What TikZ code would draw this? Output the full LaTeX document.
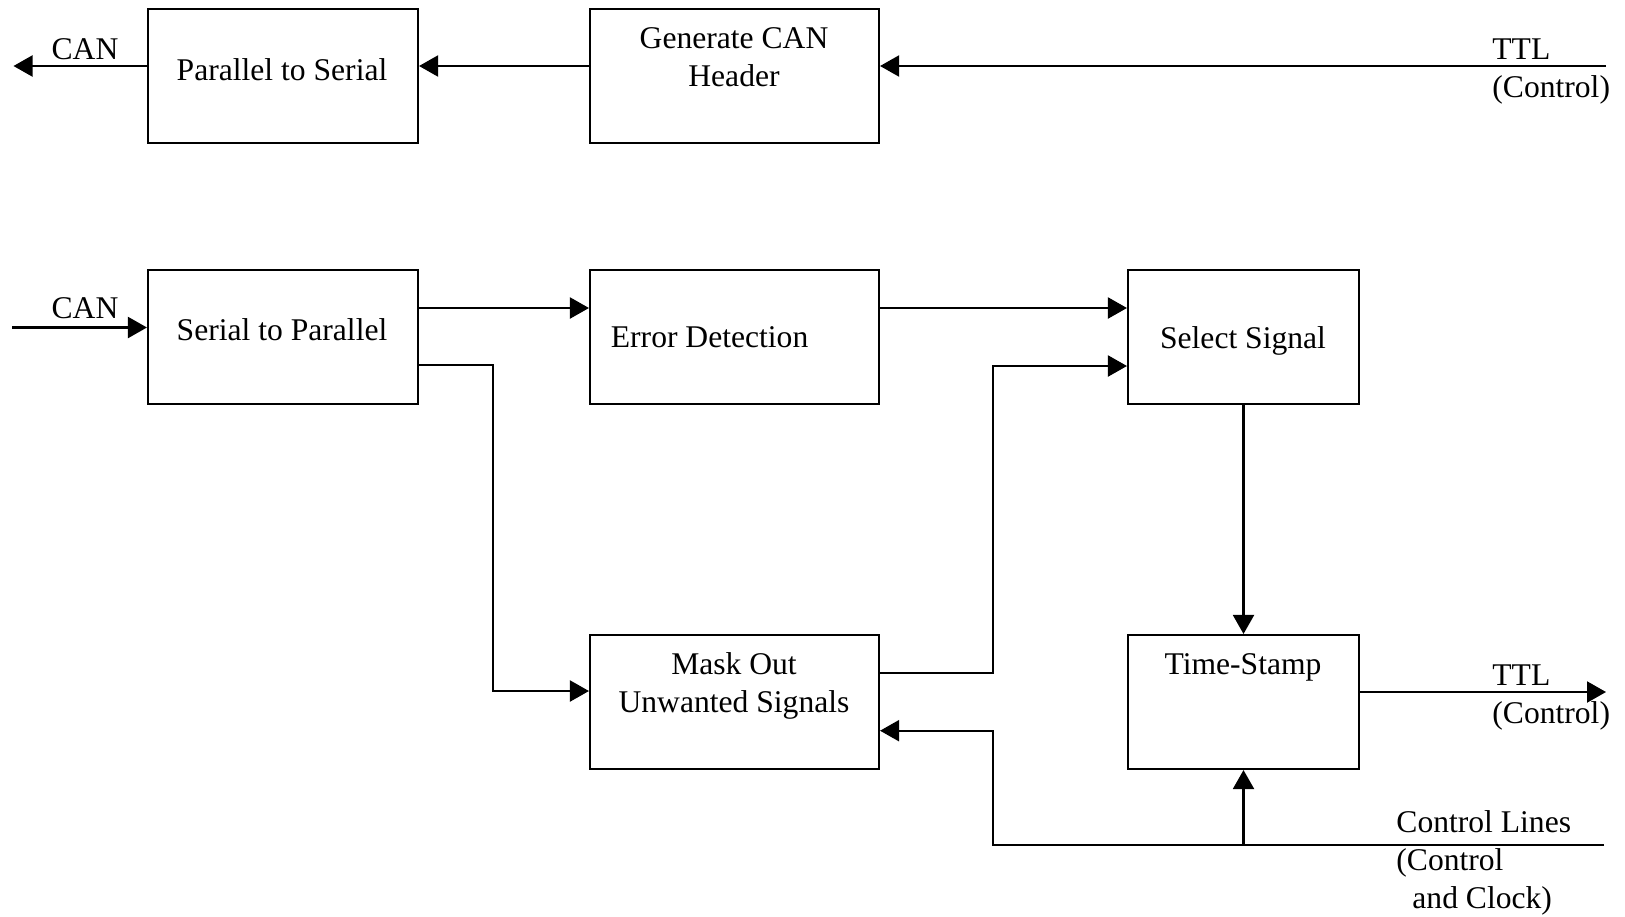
\documentclass[tikz,border=0pt]{standalone}
\usepackage{fontspec}
\setmainfont{Liberation Serif}
\usetikzlibrary{arrows.meta}
\tikzset{
 blk/.style={draw,line width=1.05pt,inner sep=0pt},
 lbl/.style={inner sep=0pt,font=\fontsize{15.8}{19}\selectfont},
 sig/.style={line width=1.05pt,-{Triangle[length=9.5pt,width=10.5pt]}},
}
\begin{document}
\begin{tikzpicture}[x=.5pt,y=-.5pt]
 \useasboundingbox (0,0) rectangle (1625,916);
 % blocks
 \node[blk,minimum width=135pt,minimum height=67pt] (p2s) at (283,76) {};
 \node[blk,minimum width=144.5pt,minimum height=67pt] (gen) at (734.5,76) {};
 \node[blk,minimum width=135pt,minimum height=67pt] (s2p) at (283,337) {};
 \node[blk,minimum width=144.5pt,minimum height=67pt] (err) at (734.5,337) {};
 \node[blk,minimum width=115.5pt,minimum height=67pt] (sel) at (1243.5,337) {};
 \node[blk,minimum width=144.5pt,minimum height=67pt] (mask) at (734.5,702) {};
 \node[blk,minimum width=115.5pt,minimum height=67pt] (ts) at (1243.5,702) {};
 % block texts
 \node[lbl] (p2stxt) at (282,69.5) {Parallel to Serial};
 \node[lbl,align=center] (gentxt) at (734,57.5) {Generate CAN\\Header};
 \node[lbl] (s2ptxt) at (282,329.6) {Serial to Parallel};
 \node[lbl,anchor=west] (errtxt) at (610.5,337) {Error Detection};
 \node[lbl] (seltxt) at (1243,340.5) {Select Signal};
 \node[lbl,align=center] (masktxt) at (734,685.5) {Mask Out\\Unwanted Signals};
 \node[lbl] (tstxt) at (1243,667) {Time-Stamp};
 % free ends
 \coordinate (canout) at (13.5,66);
 \coordinate (ttlin) at (1606,66);
 \coordinate (canin) at (12.4,327.5);
 \coordinate (ttlout) at (1606,692);
 \coordinate (ctrl) at (1604,844.7);
 % signal labels
 \node[lbl] (canouttxt) at (85,48.7) {CAN};
 \node[lbl,anchor=west,align=left] (ttlintxt) at (1492,72) {TTL\\(Control)};
 \node[lbl] (canintxt) at (85,308) {CAN};
 \node[lbl,anchor=west,align=left] (ttlouttxt) at (1492,698) {TTL\\(Control)};
 \node[lbl,anchor=west,align=left] (ctrltxt) at (1396,863) {Control Lines\\(Control\\\hspace*{8pt}and Clock)};
 % connectors
 \draw[sig] (p2s.west |- canout) -- (canout);
 \draw[sig] (gen.west |- canout) -- (p2s.east |- canout);
 \draw[sig] (ttlin) -- (gen.east |- ttlin);
 \draw[sig] (canin) -- (s2p.west |- canin);
 \draw[sig] (s2p.east |- 0,308) -- (err.west |- 0,308);
 \draw[sig] (err.east |- 0,308) -- (sel.west |- 0,308);
 \draw[sig] (s2p.east |- 0,365) -- (493,365) -- (493,691) -- (mask.west |- 0,691);
 \draw[sig] (mask.east |- 0,672.6) -- (993,672.6) -- (993,366) -- (sel.west |- 0,366);
 \draw[sig] (sel.south) -- (ts.north);
 \draw[sig] (ts.east |- ttlout) -- (ttlout);
 \draw[sig] (ctrl) -- (993,844.7) -- (993,730.7) -- (mask.east |- 0,730.7);
 \draw[sig] (ts.south |- ctrl) -- (ts.south);
\end{tikzpicture}
\end{document}
